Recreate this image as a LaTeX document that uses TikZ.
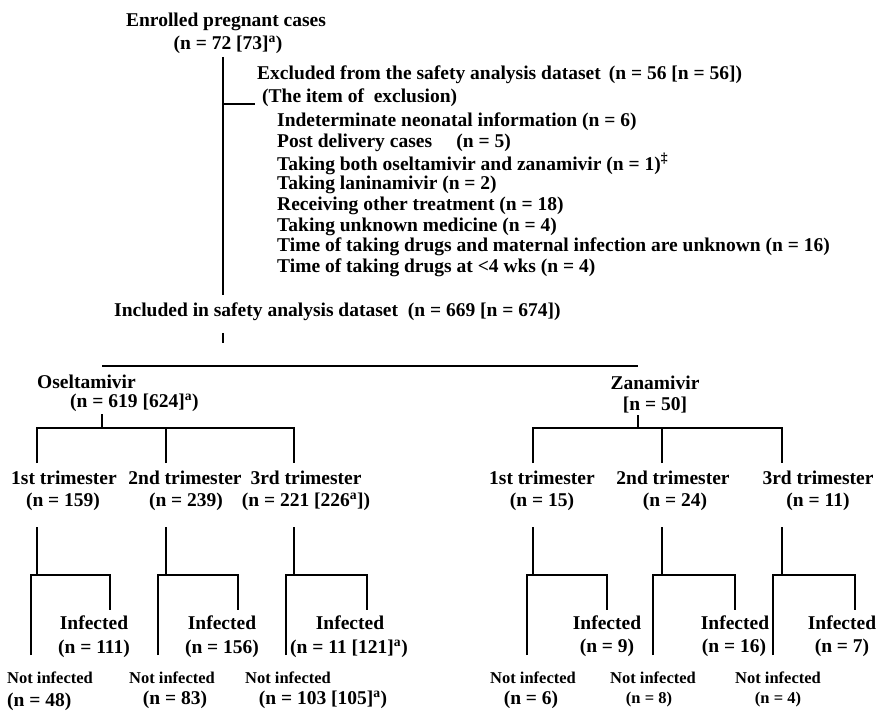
\documentclass[tikz,border=0pt]{standalone}
\usepackage{fontspec}
\setmainfont{Liberation Serif}
\tikzset{
  txt/.style={inner sep=0pt, font=\fontsize{19.5}{21}\selectfont\bfseries},
  lft/.style={txt, anchor=west},
  itm/.style={inner sep=0pt, anchor=west, font=\fontsize{19.5}{21}\selectfont\bfseries},
  sml/.style={inner sep=0pt, font=\fontsize{16.5}{18}\selectfont\bfseries},
  ln/.style={line width=2.4pt, line join=miter},
}
\newcommand{\supa}{\textsuperscript{a}}
\begin{document}
\begin{tikzpicture}[x=1pt,y=-1pt]
\useasboundingbox (0,0) rectangle (876,711);
% top block
\node[txt] (enr) at (226,22) {Enrolled pregnant cases};
\node[txt] (enrn) at (228,45) {(n = 72 [73]\supa)};
\node[lft] (exc) at (257,75) {Excluded from the safety analysis dataset \,(n = 56 [n = 56])};
\node[lft] (itemh) at (262,98) {(The item of \ exclusion)};
\node[itm] (i1) at (277,122) {Indeterminate neonatal information (n = 6)};
\node[itm] (i2) at (277,143) {Post delivery cases \quad(n = 5)};
\node[itm] (i3) at (277,164) {Taking both oseltamivir and zanamivir (n = 1)\textsuperscript{‡}};
\node[itm] (i4) at (277,185) {Taking laninamivir (n = 2)};
\node[itm] (i5) at (277,206) {Receiving other treatment (n = 18)};
\node[itm] (i6) at (277,227) {Taking unknown medicine (n = 4)};
\node[itm] (i7) at (277,247) {Time of taking drugs and maternal infection are unknown (n = 16)};
\node[itm] (i8) at (277,268) {Time of taking drugs at <4 wks (n = 4)};
\node[lft] (inc) at (114,312) {Included in safety analysis dataset \ (n = 669 [n = 674])};
\coordinate (vtop) at (223,57);
\coordinate (vbot) at (223,295);
\coordinate (brs) at (223,104);
\coordinate (bre) at (255,104);
\draw[ln] (vtop) -- (vbot);
\draw[ln] (brs) -- (bre);
\coordinate (inct) at (223,333);
\coordinate (incb) at (223,343);
\coordinate (ol) at (102,366);
\coordinate (zr) at (638,366);
\draw[ln] (inct) -- (incb);
\draw[ln] (ol) |- (zr);
% drug groups
\node[lft] (osel) at (37,382) {Oseltamivir};
\node[lft] (oseln) at (70,403) {(n = 619 [624]\supa)};
\node[txt] (zan) at (655,383) {Zanamivir};
\node[txt] (zann) at (655,405) {[n = 50]};
\coordinate (ot1) at (102,414);
\coordinate (ot2) at (102,428);
\coordinate (zt1) at (638,415);
\coordinate (zt2) at (638,428);
\draw[ln] (ot1) -- (ot2);
\draw[ln] (zt1) -- (zt2);
\coordinate (oa) at (37,463);
\coordinate (ob) at (166,463);
\coordinate (oc) at (294,463);
\coordinate (za) at (533,463);
\coordinate (zb) at (662,463);
\coordinate (zc) at (782,463);
\draw[ln] (oa) |- (ot2) -| (oc);
\draw[ln] (ob) -- (ob |- ot2);
\draw[ln] (za) |- (zt2) -| (zc);
\draw[ln] (zb) -- (zb |- zt2);
% trimesters
\node[txt] (t1) at (64,478) {1st trimester};
\node[txt] (t1n) at (63,502) {(n = 159)};
\node[txt] (t2) at (185,478) {2nd trimester};
\node[txt] (t2n) at (186,502) {(n = 239)};
\node[txt] (t3) at (306,478) {3rd trimester};
\node[txt] (t3n) at (306,502) {(n = 221 [226\supa])};
\node[txt] (u1) at (542,478) {1st trimester};
\node[txt] (u1n) at (542,502) {(n = 15)};
\node[txt] (u2) at (673,478) {2nd trimester};
\node[txt] (u2n) at (675,502) {(n = 24)};
\node[txt] (u3) at (818,478) {3rd trimester};
\node[txt] (u3n) at (818,502) {(n = 11)};
% verticals from trimesters to boxes
\foreach \x/\l/\r/\nm in {37/31/110/p, 166/158/238/q, 294/286/367/r, 533/527/607/s, 662/653/735/t, 782/773/855/u}{
  \coordinate (\nm top) at (\x,527);
  \coordinate (\nm mid) at (\x,575);
  \coordinate (\nm L) at (\l,655);
  \coordinate (\nm R) at (\r,610);
  \draw[ln] (\nm top) -- (\nm mid);
  \draw[ln] (\nm L) |- (\nm mid) -| (\nm R);
}
% outcomes
\node[txt] (pi) at (94,623) {Infected};
\node[txt] (pin) at (94,649) {(n = 111)};
\node[txt] (qi) at (222,623) {Infected};
\node[txt] (qin) at (222,649) {(n = 156)};
\node[txt] (ri) at (350,623) {Infected};
\node[txt] (rin) at (349,649) {(n = 11 [121]\supa)};
\node[txt] (si) at (607,623) {Infected};
\node[txt] (sin) at (607,648) {(n = 9)};
\node[txt] (ti) at (735,623) {Infected};
\node[txt] (tin) at (734,648) {(n = 16)};
\node[txt] (ui) at (842,623) {Infected};
\node[txt] (uin) at (842,648) {(n = 7)};
\node[sml] (pn) at (50,678) {Not infected};
\node[txt, anchor=west] (pnn) at (7,702) {(n = 48)};
\node[sml] (qn) at (172,678) {Not infected};
\node[txt] (qnn) at (175,700) {(n = 83)};
\node[sml] (rn) at (288,678) {Not infected};
\node[txt] (rnn) at (323,700) {(n = 103 [105]\supa)};
\node[sml] (sn) at (533,678) {Not infected};
\node[txt] (snn) at (531,700) {(n = 6)};
\node[sml] (tn) at (653,678) {Not infected};
\node[sml] (tnn) at (649,700) {(n = 8)};
\node[sml] (un) at (778,678) {Not infected};
\node[sml] (unn) at (778,700) {(n = 4)};
\end{tikzpicture}
\end{document}
